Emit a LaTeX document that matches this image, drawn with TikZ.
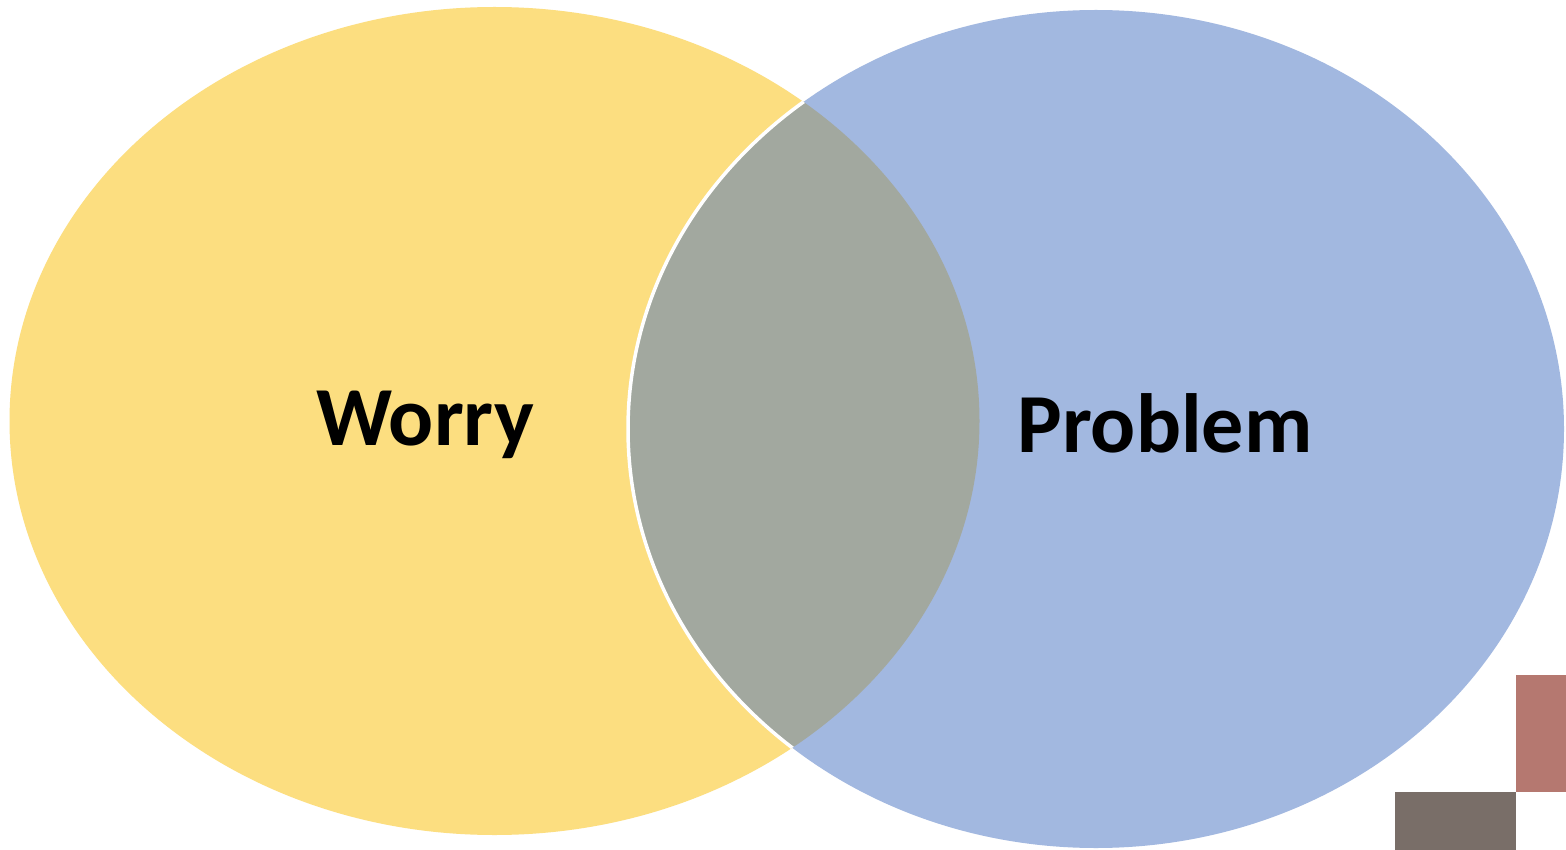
\documentclass[tikz,border=0pt]{standalone}
\usepackage{fontspec}
\setmainfont{Carlito}
\definecolor{wyellow}{HTML}{FCDE80}
\definecolor{pblue}{HTML}{A2B8E0}
\definecolor{ovgrey}{HTML}{A2A89F}
\definecolor{sqred}{HTML}{B57870}
\definecolor{sqgrey}{HTML}{796E68}
\tikzset{
  lbl/.style={font=\fontsize{84}{90}\selectfont\bfseries, text=black, inner sep=0pt, anchor=base},
  sq/.style={draw=none}
}
\begin{document}
\begin{tikzpicture}[x=1pt,y=-1pt]
\useasboundingbox (0,0) rectangle (1566,850);
\fill[white] (0,0) rectangle (1566,850);
% yellow ellipse
\fill[wyellow] (494.5,421) ellipse [x radius=485pt, y radius=414pt];
% blue ellipse
\fill[pblue] (1096,429) ellipse [x radius=468pt, y radius=419pt];
% overlap
\begin{scope}
  \clip (494.5,421) ellipse [x radius=485pt, y radius=414pt];
  \fill[ovgrey] (1096,429) ellipse [x radius=468pt, y radius=419pt];
  \draw[white, line width=3.5pt] (1096,429) ellipse [x radius=468pt, y radius=419pt];
\end{scope}
% squares
\fill[sqred, sq] (1516,675) rectangle (1566,792);
\fill[sqgrey, sq] (1394.5,792) rectangle (1516,850);
% labels
\node[lbl] (worry) at (425,445) {Worry};
\node[lbl] (problem) at (1165,452) {Problem};
\end{tikzpicture}
\end{document}
